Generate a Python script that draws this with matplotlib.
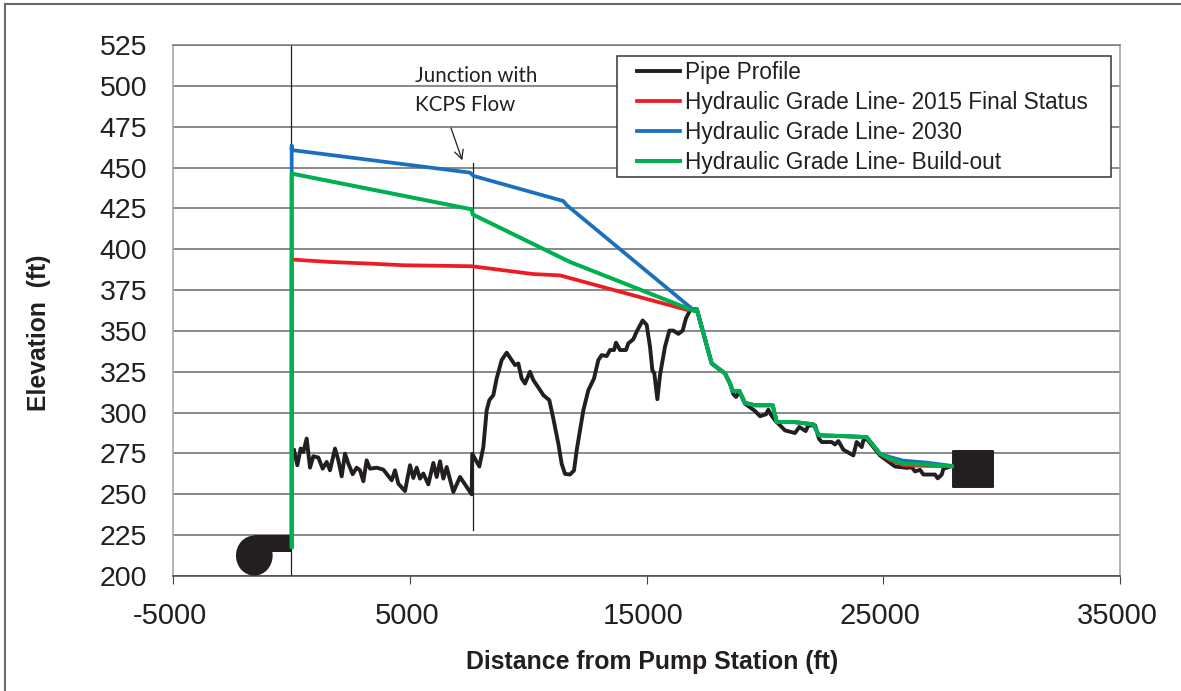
import matplotlib
matplotlib.use('Agg')
from matplotlib import pyplot as plt
from matplotlib.lines import Line2D
from matplotlib.patches import Ellipse, Rectangle
from matplotlib.transforms import ScaledTranslation

plt.rcParams['font.family'] = ['Liberation Sans', 'DejaVu Sans']
plt.rcParams['axes.unicode_minus'] = False

pipe_x = [111, 252, 392, 505, 646, 787, 927, 1139, 1322, 1491, 1631, 1843, 1984, 2124, 2265, 2406,
          2589, 2758, 2899, 3040, 3180, 3321, 3603, 3884, 4236, 4377, 4518, 4800, 5011, 5151, 5292,
          5433, 5574, 5785, 5996, 6137, 6278, 6419, 6560, 6841, 7123, 7615, 7640, 7939, 8108, 8249,
          8362, 8531, 8671, 8883, 9094, 9305, 9446, 9587, 9727, 9868, 10079, 10220, 10431, 10643,
          10896, 11065, 11276, 11417, 11558, 11769, 11938, 12051, 12192, 12332, 12543, 12783, 12966,
          13107, 13318, 13459, 13628, 13712, 13881, 14134, 14233, 14444, 14585, 14838, 15007, 15148,
          15247, 15331, 15458, 15571, 15782, 15965, 16134, 16345, 16528, 16669, 16838, 17120, 17401,
          17753, 18035, 18316, 18528, 18668, 18781, 18922, 19161, 19584, 19795, 20048, 20147, 20245,
          20428, 20640, 20851, 21273, 21456, 21724, 21837, 22118, 22287, 22400, 22822, 22963, 23104,
          23315, 23737, 23878, 24090, 24160, 24300, 24864, 25497, 26000, 26202, 26342, 26553, 26694,
          27187, 27300, 27469, 27539, 27820]
pipe_y = [277, 267.8, 278, 275.9, 284.1, 266.3, 273.3, 272.5, 265.7, 269.8, 264.7, 278, 270.8, 261,
          274.9, 268.8, 262.3, 266.3, 264.7, 258, 270.8, 265.7, 266.3, 265.1, 258.6, 264.7, 256.5, 252,
          267.8, 260, 266.3, 259.6, 262.7, 256.1, 269.2, 260.6, 270.2, 259.6, 266.7, 251.4, 260.6, 250,
          274.8, 267, 278.9, 301.4, 307.6, 310.7, 320.9, 332.2, 336.7, 332.2, 329.1, 330.1, 320.9,
          317.8, 325, 319.9, 315.4, 310.7, 307.6, 296.3, 281, 268.7, 262.5, 262.1, 264.6, 276.9, 289.1,
          301.4, 313.7, 320.9, 332.2, 335.2, 334.6, 338.3, 338.3, 342.8, 338.3, 338.3, 342.4, 344.9,
          349.6, 356.4, 353.7, 340.4, 326, 324, 308.2, 323, 340.4, 350.2, 350.2, 348.2, 350.2, 357.8,
          362.5, 363.5, 348.6, 330.1, 327, 324, 317.8, 311.3, 309.6, 312.7, 305.5, 301, 297.8, 299,
          301.8, 299, 295.3, 292.2, 289.1, 287.5, 291.2, 288.7, 292.2, 292.2, 284, 282, 282, 280.5,
          282.6, 277.3, 273.8, 282, 278.9, 283, 284, 273.8, 267, 266.2, 266.6, 264, 265, 262.1, 262.1,
          259.8, 262, 265.6, 267]

# shared part of the grade lines below the high point
tail_x = [17120, 17401, 17753, 18035, 18316, 18528, 18640, 18922, 19161, 19584, 20330, 20499, 21203,
          22048, 22287, 23174, 24300, 24864]
tail_y = [363.5, 348.6, 330.1, 327, 324, 317.8, 313.3, 313.3, 305.9, 304.5, 304.5, 294.3, 294.3,
          292.8, 286.1, 285.7, 285, 274.8]

red_x = [13, 13, 1632, 3322, 4730, 7616, 10221, 11347, 16698] + tail_x + [25286, 25849, 26835, 27891]
red_y = [218, 393.7, 392.2, 391.2, 390.2, 389.6, 384.8, 384, 362.9] + tail_y + [271, 267.8, 267.4, 267.2]

blue_x = [13, 13, 13, 7546, 7686, 11488, 11629, 16979] + tail_x + [25286, 25849, 26835, 27891]
blue_y = [218, 463.3, 460.7, 446.9, 444.9, 429.5, 427, 362.9] + tail_y + [272.8, 270.6, 269.4, 267.4]

green_x = [13, 13, 7616, 7658, 11770, 17050] + tail_x + [25286, 25849, 26835, 27891]
green_y = [218, 446.3, 424.4, 421.3, 392.2, 362] + tail_y + [271.7, 268.7, 268.2, 267.2]

y_ticks = list(range(200, 526, 25))
x_ticks = [-5000, 5000, 15000, 25000, 35000]

W, H = 1181, 691
fig = plt.figure(figsize=(W / 100, H / 100), dpi=100)
ax = fig.add_axes([173 / W, 1 - 576 / H, (1120 - 173) / W, (576 - 45) / H])
ink = '#231f20'

ax.set_xlim(-5000, 35000)
ax.set_ylim(200, 525)
ax.set_xticks(x_ticks)
ax.set_yticks(y_ticks)
ax.grid(axis='y', color='#6f6f6f', linewidth=1.15, zorder=0)
ax.set_axisbelow(True)
ax.tick_params(axis='y', length=0, pad=18.5, labelsize=20.5, labelcolor=ink)
ax.tick_params(axis='x', length=5.5, width=0.8, color='#444444', pad=13.5, labelsize=21, labelcolor=ink)
# x labels sit a little left of their ticks
for lab in ax.get_xticklabels():
    lab.set_transform(lab.get_transform() + ScaledTranslation(-3 / 100, 0, fig.dpi_scale_trans))
ax.spines['left'].set_color('#a0a0a0')
ax.spines['right'].set_color('#a0a0a0')
ax.spines['top'].set_color('#7a7a7a')
ax.spines['bottom'].set_color('#444444')
for s in ax.spines.values():
    s.set_linewidth(1.1)

ax.plot([0, 0], [200, 525], color=ink, linewidth=0.9, zorder=2)
ax.plot([7672, 7672], [228, 453], color=ink, linewidth=0.9, zorder=2)

# pump and tank symbols
ax.add_patch(Ellipse((-1566, 212.5), 1550, 24.5, facecolor=ink, edgecolor='none', zorder=3))
ax.add_patch(Rectangle((-1566, 214.7), 1566, 10.3, facecolor=ink, edgecolor='none', zorder=3))
ax.add_patch(Rectangle((27930, 254.2), 1724, 22.4, facecolor=ink, edgecolor=ink, linewidth=1.4,
                       joinstyle='round', zorder=3))

ax.plot(pipe_x, pipe_y, color=ink, linewidth=2.8, label='Pipe Profile', zorder=4, solid_joinstyle='round')
ax.plot(red_x, red_y, color='#ed1c24', linewidth=2.7, label='Hydraulic Grade Line- 2015 Final Status', zorder=5)
ax.plot(blue_x, blue_y, color='#1b70bd', linewidth=2.7, label='Hydraulic Grade Line- 2030', zorder=6)
ax.plot(green_x, green_y, color='#00b050', linewidth=2.9, label='Hydraulic Grade Line- Build-out', zorder=7)

# legend box drawn by hand, its inner margins are not even
ax.add_patch(Rectangle(((617 - 173) / 947, 1 - (177 - 45) / 531), 494 / 947, 121 / 531, transform=ax.transAxes,
                       facecolor='white', edgecolor='#333333', linewidth=1.1, zorder=8))
leg = ax.legend(loc='upper left', bbox_to_anchor=((637 - 173) / 947, 1 - (61 - 45) / 531), fontsize=16.25,
                frameon=False, borderaxespad=0, borderpad=0, handlelength=1.9, handletextpad=0.22,
                labelspacing=0.31, labelcolor=ink)
leg.set_zorder(9)

ax.text(5222, 497.2, 'Junction with\nKCPS Flow', family=['Lato', 'DejaVu Sans'], fontsize=14.8, color=ink,
        ha='left', va='center', linespacing=1.6, zorder=9)
ax.annotate('', xy=(7220, 454.4), xytext=(6743, 474.2), zorder=9,
            arrowprops=dict(arrowstyle='->', color=ink, linewidth=0.9, mutation_scale=16, shrinkA=0, shrinkB=0))

fig.text(652 / W, 1 - 662 / H, 'Distance from Pump Station (ft)', fontsize=17.9, fontweight='bold', color=ink,
         ha='center', va='center')
fig.text(39 / W, 1 - 333 / H, 'Elevation  (ft)', fontsize=17.8, fontweight='bold', color=ink,
         rotation=90, ha='center', va='center')

# outer frame around the picture
fig.add_artist(Line2D([5 / W, 5 / W], [0, 1 - 4 / H], color='#6a6a6a', linewidth=1.5))
fig.add_artist(Line2D([5 / W, 1], [1 - 4 / H, 1 - 4 / H], color='#6a6a6a', linewidth=1.5))

fig.savefig('out.png', dpi=100)
